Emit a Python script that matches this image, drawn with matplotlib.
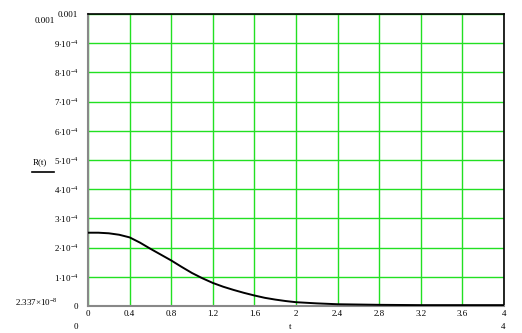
import matplotlib.pyplot as plt

# R(t)
t = [0.0, 0.1, 0.2, 0.3, 0.4, 0.5, 0.6, 0.7, 0.8, 0.9, 1.0, 1.1, 1.2, 1.3, 1.4, 1.5,
     1.6, 1.7, 1.8, 1.9, 2.0, 2.2, 2.4, 2.6, 2.8, 3.2, 3.6, 4.0]
r = [2.51e-4, 2.51e-4, 2.49e-4, 2.44e-4, 2.35e-4, 2.17e-4, 1.96e-4, 1.76e-4, 1.56e-4,
     1.34e-4, 1.13e-4, 0.95e-4, 0.79e-4, 0.66e-4, 0.55e-4, 0.45e-4, 0.36e-4, 0.28e-4,
     0.22e-4, 0.17e-4, 0.13e-4, 0.09e-4, 0.06e-4, 0.05e-4, 0.04e-4, 0.03e-4, 0.03e-4, 0.03e-4]

xticks = [0, 0.4, 0.8, 1.2, 1.6, 2, 2.4, 2.8, 3.2, 3.6, 4]
xlabels = ["0", "0.4", "0.8", "1.2", "1.6", "2", "2.4", "2.8", "3.2", "3.6", "4"]
yticks = [0, 1e-4, 2e-4, 3e-4, 4e-4, 5e-4, 6e-4, 7e-4, 8e-4, 9e-4, 1e-3]
ylabels = ["0"] + [str(i) + r"$\cdot$10$^{-4}$" for i in range(1, 10)] + ["0.001"]

plt.rcParams["font.family"] = "Liberation Serif"
plt.rcParams["mathtext.fontset"] = "custom"
plt.rcParams["mathtext.rm"] = "Liberation Serif"
plt.rcParams["font.size"] = 6.5

fig = plt.figure(figsize=(5.22, 3.33), dpi=100)
ax = fig.add_axes([88 / 522, 27 / 333, 416 / 522, 292 / 333])

ax.plot(t, r, color="black", lw=1.4, zorder=3)

ax.set_xlim(0, 4)
ax.set_ylim(0, 0.001)
ax.set_xticks(xticks)
ax.set_xticklabels(xlabels)
ax.set_yticks(yticks)
ax.set_yticklabels(ylabels)
ax.tick_params(axis="x", length=0, pad=3)
ax.tick_params(axis="y", length=0, pad=7)
ax.grid(True, color="#22e022", lw=1)

for s in ["top", "right"]:
    ax.spines[s].set_color("black")
    ax.spines[s].set_linewidth(1.2)
for s in ["left", "bottom"]:
    ax.spines[s].set_color("#888888")
    ax.spines[s].set_linewidth(1.5)

# extra Mathcad-style labels
fig.text(290 / 522, 1 - 327 / 333, "t", ha="center", va="center")
fig.text(40 / 522, 1 - 162 / 333, "R(t)", ha="center", va="center")
fig.add_artist(plt.Line2D([32 / 522, 54 / 522], [1 - 172 / 333] * 2, color="black", lw=1.2))
fig.text(55 / 522, 1 - 21 / 333, "0.001", ha="right", va="center")
fig.text(58 / 522, 1 - 302 / 333, r"2.337$\times$10$^{-8}$", ha="right", va="center")
fig.text(76 / 522, 1 - 327 / 333, "0", ha="center", va="center")
fig.text(503 / 522, 1 - 327 / 333, "4", ha="center", va="center")

fig.savefig("out.png", dpi=100)
